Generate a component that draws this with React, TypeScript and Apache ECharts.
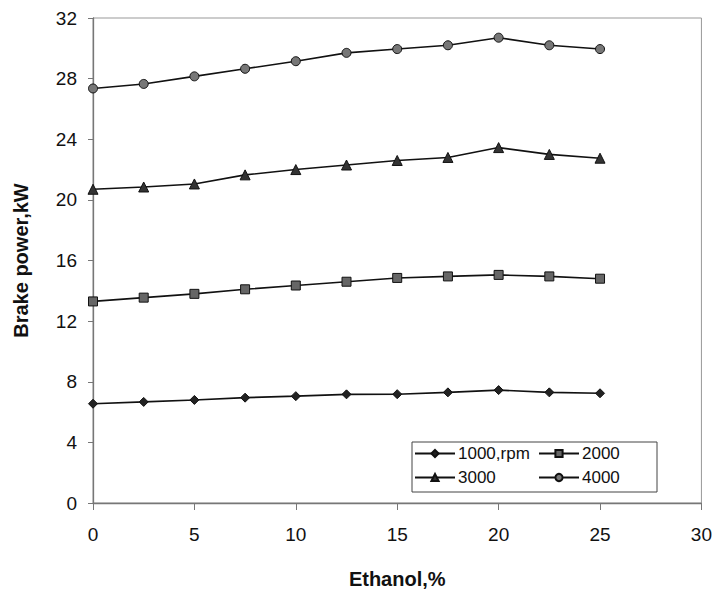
import React, { useEffect, useRef } from "react";
import * as echarts from "echarts";

const ethanol = [0, 2.5, 5, 7.5, 10, 12.5, 15, 17.5, 20, 22.5, 25];
const rpm1000 = [6.55, 6.67, 6.8, 6.95, 7.05, 7.17, 7.18, 7.3, 7.45, 7.3, 7.24];
const rpm2000 = [13.3, 13.55, 13.8, 14.1, 14.35, 14.6, 14.85, 14.95, 15.05, 14.95, 14.8];
const rpm3000 = [20.7, 20.85, 21.05, 21.65, 22.0, 22.3, 22.6, 22.8, 23.45, 23.0, 22.75];
const rpm4000 = [27.35, 27.65, 28.15, 28.65, 29.15, 29.7, 29.95, 30.2, 30.7, 30.2, 29.95];
const seriesNames = ["1000,rpm", "2000", "3000", "4000"];
const symbols = ["diamond", "rect", "triangle", "circle"];
const fills = ["#222", "#666", "#333", "#777"];

export default function App() {
  const ref = useRef<HTMLDivElement>(null);
  useEffect(() => {
    const chart = echarts.init(ref.current!, undefined, { renderer: "svg" });
    const datasets = [rpm1000, rpm2000, rpm3000, rpm4000];
    const font = "Liberation Sans, Arial, sans-serif";
    chart.setOption({
      animation: false,
      backgroundColor: "#fff",
      textStyle: { fontFamily: font },
      grid: {
        left: 93,
        right: 11,
        top: 18,
        bottom: 91,
        show: true,
        borderColor: "#999",
        borderWidth: 1,
      },
      xAxis: {
        type: "value",
        min: 0,
        max: 30,
        interval: 5,
        name: "Ethanol,%",
        nameLocation: "middle",
        nameGap: 66,
        nameTextStyle: { fontSize: 20, fontWeight: "bold", color: "#111" },
        axisLine: { show: true, onZero: false, lineStyle: { color: "#777", width: 1.3 } },
        axisTick: { show: true, length: 7, lineStyle: { color: "#777" } },
        axisLabel: { fontSize: 19, color: "#111", margin: 22 },
        splitLine: { show: false },
      },
      yAxis: {
        type: "value",
        min: 0,
        max: 32,
        interval: 4,
        name: "Brake power,kW",
        nameLocation: "middle",
        nameGap: 62,
        nameTextStyle: { fontSize: 20, fontWeight: "bold", color: "#111" },
        axisLine: { show: true, lineStyle: { color: "#777", width: 1.3 } },
        axisTick: { show: true, length: 5, lineStyle: { color: "#777" } },
        axisLabel: { fontSize: 19, color: "#111", margin: 16 },
        splitLine: { show: false },
      },
      legend: [
        {
          data: [seriesNames[0], seriesNames[2]],
          orient: "vertical",
          left: 414,
          top: 445,
          itemWidth: 40,
          itemHeight: 9,
          itemGap: 7,
          padding: 0,
          textStyle: { fontSize: 17, color: "#111", padding: [0, 0, 0, -2] },
        },
        {
          data: [seriesNames[1], seriesNames[3]],
          orient: "vertical",
          left: 538,
          top: 445,
          itemWidth: 40,
          itemHeight: 9,
          itemGap: 7,
          padding: 0,
          textStyle: { fontSize: 17, color: "#111", padding: [0, 0, 0, -2] },
        },
      ],
      graphic: [
        {
          type: "rect",
          shape: { x: 412, y: 442, width: 245, height: 50 },
          style: { fill: "none", stroke: "#444", lineWidth: 1 },
          z: 10,
        },
      ],
      series: datasets.map((d, i) => ({
        name: seriesNames[i],
        type: "line",
        data: ethanol.map((x, j) => [x, d[j]]),
        symbol: symbols[i],
        symbolSize: i === 2 ? 10 : 9,
        showSymbol: true,
        lineStyle: { color: "#111", width: 1.6 },
        itemStyle: { color: fills[i], borderColor: "#111", borderWidth: 1 },
        color: fills[i],
      })),
    });
    return () => chart.dispose();
  }, []);
  return <div ref={ref} style={{ width: 715, height: 594, position: "absolute", left: 0, top: 0 }} />;
}
